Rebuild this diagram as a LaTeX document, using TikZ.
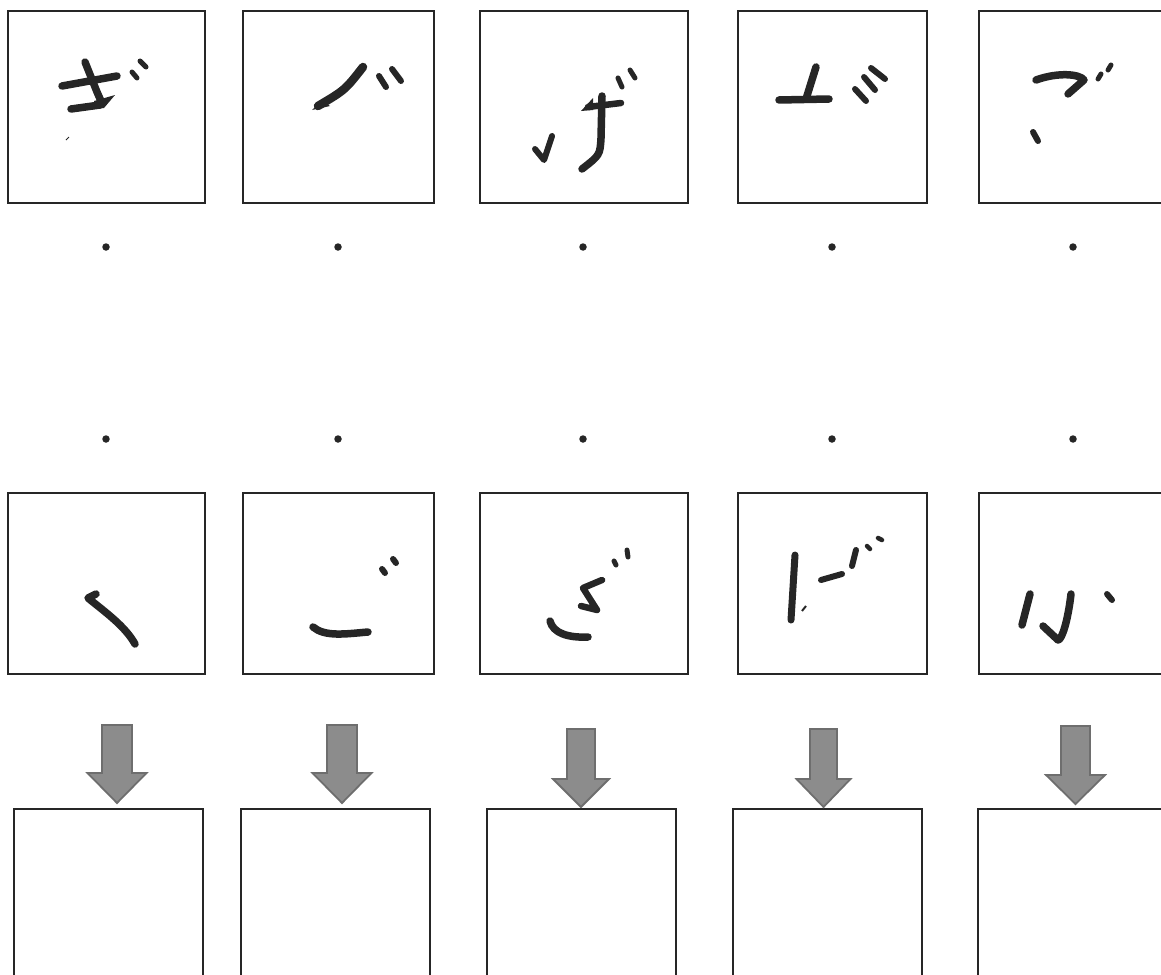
\documentclass[tikz,border=0pt]{standalone}
\definecolor{boxc}{HTML}{262626}
\definecolor{inkc}{HTML}{262626}
\definecolor{arrfill}{HTML}{8C8C8C}
\definecolor{arrdraw}{HTML}{6E6E6E}
\begin{document}
\begin{tikzpicture}[x=1pt,y=-1pt,
  box/.style={draw=boxc, line width=2pt, inner sep=0pt, outer sep=0pt, anchor=north west},
  ink/.style={draw=inkc, line width=7.5pt, line cap=round, line join=round},
  dotmark/.style={circle, fill=inkc, inner sep=0pt, minimum size=7.5pt},
  blockarrow/.style={fill=arrfill, draw=arrdraw, line width=1.8pt, line join=miter}]
\useasboundingbox (0,0) rectangle (1161,974);
\clip (0,0) rectangle (1161,974);
% top row boxes
\node[box, minimum width=197pt, minimum height=192pt] (t1) at (8,11) {};
\node[box, minimum width=191pt, minimum height=192pt] (t2) at (243,11) {};
\node[box, minimum width=208pt, minimum height=192pt] (t3) at (480,11) {};
\node[box, minimum width=189pt, minimum height=192pt] (t4) at (738,11) {};
\node[box, minimum width=197pt, minimum height=192pt] (t5) at (979,11) {};
% middle row boxes
\node[box, minimum width=197pt, minimum height=181pt] (m1) at (8,493) {};
\node[box, minimum width=191pt, minimum height=181pt] (m2) at (243,493) {};
\node[box, minimum width=208pt, minimum height=181pt] (m3) at (480,493) {};
\node[box, minimum width=189pt, minimum height=181pt] (m4) at (738,493) {};
\node[box, minimum width=197pt, minimum height=181pt] (m5) at (979,493) {};
% bottom row boxes
\node[box, minimum width=189pt, minimum height=200pt] (b1) at (14,809) {};
\node[box, minimum width=189pt, minimum height=200pt] (b2) at (241,809) {};
\node[box, minimum width=189pt, minimum height=200pt] (b3) at (487,809) {};
\node[box, minimum width=189pt, minimum height=200pt] (b4) at (733,809) {};
\node[box, minimum width=189pt, minimum height=200pt] (b5) at (978,809) {};
% dots
\foreach \i/\x in {1/106,2/338,3/583,4/832,5/1073}{
  \node[dotmark] (da\i) at (\x,247) {};
  \node[dotmark] (db\i) at (\x,439) {};
}
% block arrows
\foreach \c/\top/\hy/\tip/\sw/\hw in {117/725/773/803/15/29.5, 342/725/773/803/15/29.5, 581/729/779/807/14/28, 823.5/729/779/807/13.5/27, 1075.5/726/775/804/14.5/29.5}{
  \draw[blockarrow] (\c-\sw,\top) -- (\c+\sw,\top) -- (\c+\sw,\hy) -- (\c+\hw,\hy) -- (\c,\tip) -- (\c-\hw,\hy) -- (\c-\sw,\hy) -- cycle;
}
% ---- strokes, top row ----
% box 1
\draw[ink] (62,86) -- (117,76);
\draw[ink] (85,62) -- (97,92) -- (101,101);
\draw[ink] (71,109) -- (100,105);
\fill[inkc] (94,101) -- (115,95) -- (104,108) -- (96,109) -- cycle;
\draw[ink, line width=5pt] (132,72) -- (137,78);
\draw[ink, line width=5pt] (140,61) -- (146,67);
\draw[inkc, line width=1pt] (66,140) -- (69,137);
% box 2
\draw[ink, line width=8.5pt] (363,67) .. controls (345,90) .. (318,106);
\fill[inkc] (312,110) -- (322,101) -- (330,106) -- cycle;
\draw[ink, line width=6pt] (379,76) -- (386,87);
\draw[ink, line width=6pt] (392,69) -- (401,81);
% box 3
\draw[ink, line width=6pt] (535,149) -- (544,160) -- (552,136);
\draw[ink, line width=6.5pt] (588,107) -- (621,103);
\fill[inkc] (581,111) -- (593,98) -- (593,110) -- cycle;
\draw[ink] (602,96) -- (601,138) .. controls (600,155) .. (582,169);
\draw[ink, line width=5pt] (618,78) -- (622,87);
\draw[ink, line width=5pt] (630,70) -- (635,78);
% box 4
\draw[ink] (816,67) -- (806,99);
\draw[ink] (779,100) -- (829,99);
\draw[ink, line width=6pt] (855,89) -- (866,101);
\draw[ink, line width=6pt] (864,77) -- (875,90);
\draw[ink, line width=6pt] (871,68) -- (885,79);
% box 5
\draw[ink] (1036,80) .. controls (1058,72) and (1080,74) .. (1084,80) -- (1068,94);
\draw[ink, line width=5pt] (1098,79) -- (1101,74);
\draw[ink, line width=5pt] (1108,70) -- (1111,65);
\draw[ink, line width=6pt] (1033,132) -- (1038,141);
% ---- strokes, middle row ----
% box 1
\draw[ink] (96,594) -- (88,598) .. controls (105,612) and (125,626) .. (135,644);
% box 2
\draw[ink] (313,627) .. controls (325,637) and (345,634) .. (368,632);
\draw[ink, line width=6pt] (382,569) -- (385,573);
\draw[ink, line width=6pt] (393,559) -- (396,563);
% box 3
\draw[ink] (550,621) .. controls (553,633) and (568,638) .. (588,637);
\draw[ink, line width=6.5pt] (602,580) -- (583,588) -- (597,610) -- (581,606);
\draw[ink, line width=5pt] (614,561) -- (616,565);
\draw[ink, line width=5pt] (627,550) -- (628,557);
% box 4
\draw[ink, line width=7pt] (795,555) -- (791,620);
\draw[inkc, line width=2pt] (802,611) -- (806,606);
\draw[ink, line width=6pt] (821,580) -- (842,574);
\draw[ink, line width=6pt] (856,550) -- (852,566);
\draw[ink, line width=4.5pt] (867,546) -- (870,549);
\draw[ink, line width=4.5pt] (878,538) -- (882,540);
% box 5
\draw[ink] (1030,594) -- (1022,625);
\draw[ink] (1071,594) .. controls (1068,620) and (1062,640) .. (1058,640) -- (1043,626);
\draw[ink, line width=6pt] (1107,594) -- (1112,600);
\end{tikzpicture}
\end{document}
